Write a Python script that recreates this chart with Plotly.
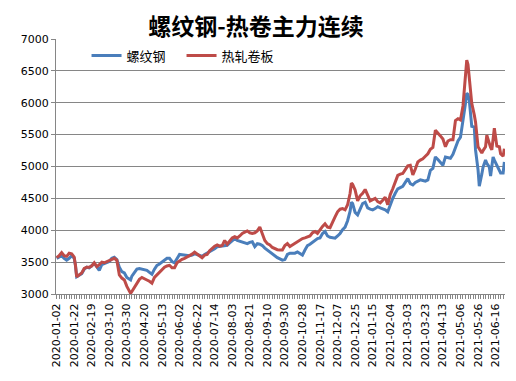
import plotly.graph_objects as go

# trading-day index since 2020-01-02 (sampled)
day = [0, 2, 4, 6, 8, 10, 12, 14, 15, 16, 18, 20, 22, 24, 26, 28, 30, 32, 34, 36, 38, 40, 42, 44, 46, 48,
       50, 52, 54, 56, 58, 59,
       60, 62, 64, 66, 68, 70, 72, 74, 76, 78, 80, 82, 84, 86, 88, 90, 92, 94, 96, 98, 100, 102, 104,
       106, 108, 110, 112, 114, 116, 118, 120,
       122, 124, 126, 128, 130, 132, 134, 136, 138, 140, 142, 144, 146, 148, 150, 152, 154, 156, 158,
       160, 162, 164, 166, 168, 170, 172, 174, 176, 178, 180, 182,
       184, 186, 188, 190, 192, 194, 196, 198, 200, 202, 204, 206, 208, 210, 212, 214, 216, 218, 220,
       222, 224, 226, 228, 230, 232, 234, 235, 236, 238, 240, 242, 244,
       246, 248, 250, 252, 254, 256, 258, 260, 262, 264, 266, 268, 270, 272, 274, 276, 278, 280, 282,
       284, 286, 288, 290, 292, 294, 296, 298, 300, 302,
       304, 306, 308, 310, 312, 314, 316, 318, 320, 322, 324, 326, 327, 328, 329, 330, 331, 333, 334,
       336, 337, 339, 340, 342, 343, 345, 346, 347, 348, 349, 351, 353, 354, 356, 357]

rebar = [3560, 3580, 3600, 3560, 3530, 3560, 3600, 3560, 3450, 3270, 3300, 3320, 3390, 3420, 3410, 3440,
         3480, 3430, 3370, 3460, 3480, 3500, 3510, 3560, 3575, 3540,
         3420, 3350, 3330, 3260, 3230, 3220,
         3280, 3340, 3390, 3400, 3390, 3385, 3370, 3340, 3310, 3390, 3450, 3470, 3500, 3520, 3560, 3560,
         3510, 3490, 3560, 3620, 3615, 3610, 3600, 3600, 3610, 3630, 3620, 3600, 3590, 3620, 3640,
         3660, 3690, 3710, 3740, 3745, 3750, 3760, 3765, 3800, 3830, 3870, 3840, 3830, 3820, 3800, 3790,
         3810, 3820, 3745, 3790, 3780, 3760, 3720, 3690, 3650, 3620, 3590, 3570, 3550, 3530, 3540,
         3620, 3640, 3640, 3640, 3660, 3640, 3610, 3690, 3760, 3780, 3810, 3840, 3870, 3880, 3950, 3980,
         3910, 3890, 3880, 3875, 3910, 3950, 4010, 4050, 4150, 4300, 4440, 4420, 4280, 4240, 4330, 4420,
         4440, 4350, 4330, 4320, 4340, 4370, 4350, 4340, 4320, 4290, 4400, 4500, 4580, 4650, 4670, 4690,
         4750, 4810, 4730, 4710, 4750, 4770, 4790, 4780, 4770, 4790, 4940, 4970, 5150,
         5110, 5060, 5020, 5150, 5140, 5130, 5190, 5300, 5400, 5460, 5700, 5990, 6150, 6130, 6040, 5800,
         5630, 5620, 5260, 4950, 4690, 4880, 4990, 5100, 5050, 4990, 4850, 5000, 5150, 5100, 5020, 4960,
         4900, 4900, 5070]

hrc = [3570, 3600, 3650, 3600, 3590, 3640, 3630, 3580, 3450, 3270, 3300, 3330, 3400, 3420, 3420, 3440,
       3490, 3430, 3460, 3500, 3490, 3510, 3520, 3540, 3560, 3530,
       3300, 3250, 3220, 3120, 3030, 3010,
       3040, 3100, 3150, 3230, 3260, 3245, 3220, 3200, 3170, 3260, 3300, 3340, 3380, 3420, 3440, 3450,
       3410, 3410, 3490, 3520, 3545, 3560, 3580, 3600, 3625, 3655, 3630, 3600, 3570, 3610, 3620,
       3680, 3720, 3750, 3770, 3750, 3760, 3840, 3780, 3830, 3880, 3900, 3880, 3910, 3950, 3970, 3990,
       3960, 3950, 3960, 3990, 4050, 3940, 3840, 3790, 3770, 3730, 3710, 3695, 3690, 3690, 3760,
       3790, 3745, 3770, 3800, 3820, 3840, 3870, 3880, 3900, 3910, 3960, 3980, 3950, 4010, 4060, 4100,
       4050, 4040, 4140, 4210, 4290, 4330, 4340, 4320, 4400, 4580, 4740, 4720, 4630, 4460, 4540, 4580,
       4640, 4560, 4460, 4480, 4500, 4450, 4430, 4470, 4520, 4400, 4560, 4650, 4760, 4860, 4880, 4890,
       4950, 5010, 5020, 4870, 4960, 5070, 5100, 5120, 5160, 5200, 5270, 5300, 5570,
       5530, 5480, 5430, 5310, 5400, 5420, 5420, 5720, 5750, 5730, 5950, 6400, 6670, 6600, 6410, 6150,
       5990, 5810, 5700, 5310, 5280, 5210, 5250, 5310, 5490, 5340, 5300, 5260, 5450, 5600, 5320, 5310,
       5200, 5160, 5280]

tick_days = list(range(0, 351, 14))
tick_labels = ["2020-01-02", "2020-01-22", "2020-02-19", "2020-03-10", "2020-03-30", "2020-04-20",
               "2020-05-13", "2020-06-02", "2020-06-22", "2020-07-14", "2020-08-03", "2020-08-21",
               "2020-09-10", "2020-09-30", "2020-10-28", "2020-11-17", "2020-12-07", "2020-12-25",
               "2021-01-15", "2021-02-04", "2021-03-03", "2021-03-23", "2021-04-13", "2021-05-06",
               "2021-05-26", "2021-06-16"]

series_names = ["螺纹钢", "热轧卷板"]
colors = ["#4A7EBB", "#BE4B48"]

fig = go.Figure()
fig.add_trace(go.Scatter(x=day, y=rebar, mode="lines", name=series_names[0],
                         line=dict(color=colors[0], width=3)))
fig.add_trace(go.Scatter(x=day, y=hrc, mode="lines", name=series_names[1],
                         line=dict(color=colors[1], width=3)))

# page body has an 8px margin, so the figure is drawn at (8, 8)
fig.update_layout(
    width=508, height=373,
    margin=dict(l=48, r=11, t=31, b=87),
    paper_bgcolor="white", plot_bgcolor="white",
    title=dict(text="<b>螺纹钢-热卷主力连续</b>", xref="container", x=0.488, xanchor="center",
               yref="container", y=0.950, yanchor="middle",
               font=dict(family="Noto Sans CJK SC", size=23, color="black")),
    showlegend=True,
    legend=dict(orientation="h", x=0.068, y=0.935, xanchor="left", yanchor="middle",
                font=dict(family="Noto Sans CJK SC", size=13, color="black"),
                bgcolor="rgba(0,0,0,0)", itemwidth=30, tracegroupgap=0,
                entrywidth=50, entrywidthmode="pixels"),
    font=dict(family="DejaVu Sans", size=11, color="black"),
)
fig.update_xaxes(range=[-0.5, 357.5], tickmode="array", tickvals=tick_days, ticktext=tick_labels,
                 tickangle=-90, showgrid=False, zeroline=False,
                 showline=True, linecolor="#868686", linewidth=1,
                 ticks="outside", ticklen=4, tickcolor="#868686",
                 minor=dict(dtick=2, tick0=0, ticks="outside", ticklen=4, tickcolor="#868686", showgrid=False),
                 tickfont=dict(family="DejaVu Sans", size=11, color="black"))
fig.update_yaxes(range=[3000, 7000], dtick=500, showgrid=True, gridcolor="#868686", gridwidth=1,
                 zeroline=False, showline=True, linecolor="#868686", linewidth=1,
                 ticks="outside", ticklen=4, tickcolor="#868686",
                 tickfont=dict(family="DejaVu Sans", size=11, color="black"))
fig.add_shape(type="line", xref="paper", yref="paper", x0=1.018, x1=1.018, y0=-0.35, y1=1.16,
              line=dict(color="#D0D0D0", width=1))

fig.write_html("out.html")
